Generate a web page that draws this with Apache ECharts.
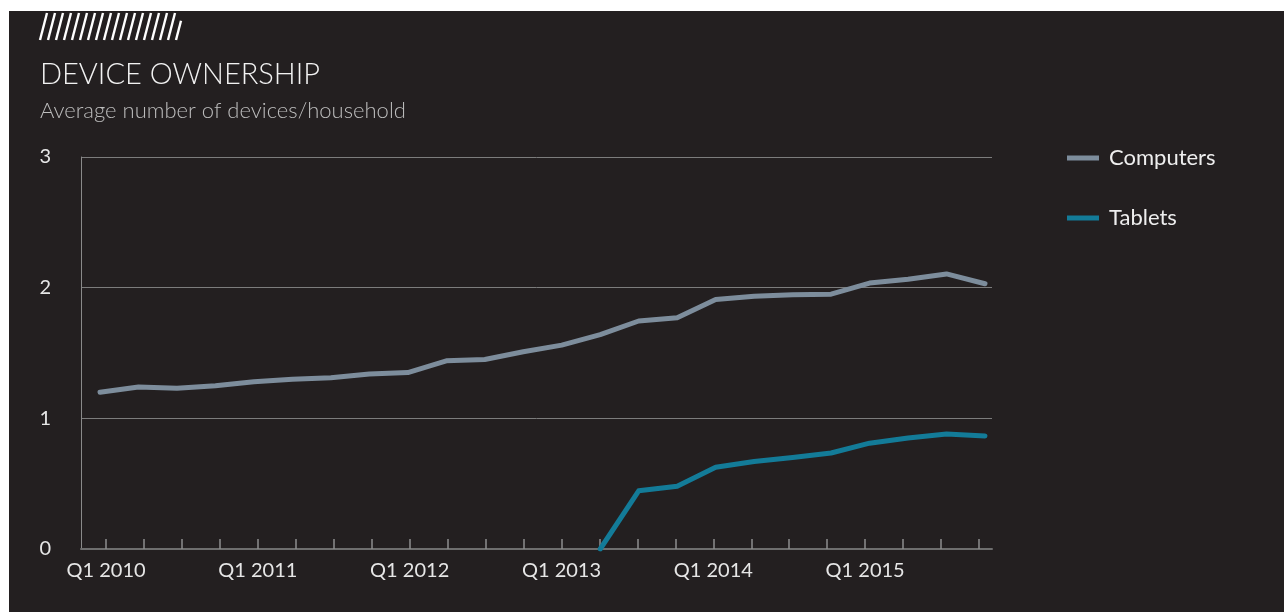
<!DOCTYPE html>
<html>
<head>
<meta charset="utf-8">
<script src="https://cdn.jsdelivr.net/npm/echarts@6/dist/echarts.min.js"></script>
<style>
  html, body { margin: 0; padding: 0; background: #ffffff; }
  #chart { width: 1284px; height: 612px; }
</style>
</head>
<body>
<div id="chart"></div>
<script>
// Quarter labels along the x axis
const quarters = [
  'Q1 2010', 'Q2 2010', 'Q3 2010', 'Q4 2010',
  'Q1 2011', 'Q2 2011', 'Q3 2011', 'Q4 2011',
  'Q1 2012', 'Q2 2012', 'Q3 2012', 'Q4 2012',
  'Q1 2013', 'Q2 2013', 'Q3 2013', 'Q4 2013',
  'Q1 2014', 'Q2 2014', 'Q3 2014', 'Q4 2014',
  'Q1 2015', 'Q2 2015', 'Q3 2015', 'Q4 2015'
];

// Average number of devices per household, one value per quarter
const computers = [
  1.20, 1.24, 1.23, 1.25, 1.28, 1.30, 1.31, 1.34,
  1.35, 1.44, 1.45, 1.51, 1.56, 1.64, 1.745, 1.77,
  1.91, 1.935, 1.945, 1.95, 2.035, 2.065, 2.105, 2.03
];
const tablets = [
  null, null, null, null, null, null, null, null,
  null, null, null, null, null, 0.00, 0.445, 0.48,
  0.625, 0.67, 0.70, 0.735, 0.81, 0.85, 0.88, 0.865
];

const yTicks = [0, 1, 2, 3];

const BG = '#231f20';
const FONT = 'Lato, "Noto Sans", sans-serif';

const chart = echarts.init(document.getElementById('chart'), null, { renderer: 'canvas' });

// Decorative hatch block above the title
const hatch = [];
for (let k = 0; k < 18; k++) {
  const xb = 40 + 8 * k;
  const xt = Math.min(xb + 7, 181);
  hatch.push({
    type: 'line',
    shape: { x1: xb, y1: 40, x2: xt, y2: 40 - (xt - xb) * 27 / 7 },
    style: { stroke: '#ffffff', lineWidth: 2.4 }
  });
}

const pairs = arr => arr.map((v, i) => [i, v]);

chart.setOption({
  backgroundColor: BG,
  animation: false,
  textStyle: { fontFamily: FONT },
  title: [
    {
      text: 'DEVICE OWNERSHIP',
      left: 35, top: 55,
      textStyle: { color: '#f2f2f2', fontSize: 29, fontWeight: 300, fontFamily: FONT }
    },
    {
      text: 'Average number of devices/household',
      left: 35, top: 95,
      textStyle: { color: '#bdbdbd', fontSize: 22, fontWeight: 300, fontFamily: FONT }
    }
  ],
  graphic: [
    { type: 'rect', left: 0, top: 0, shape: { width: 1284, height: 11 }, style: { fill: '#ffffff' }, silent: true },
    { type: 'rect', left: 0, top: 0, shape: { width: 9, height: 612 }, style: { fill: '#ffffff' }, silent: true },
    { type: 'group', children: hatch, silent: true }
  ],
  legend: {
    orient: 'vertical',
    left: 1062, top: 142,
    itemWidth: 32, itemHeight: 5,
    itemGap: 38,
    icon: 'rect',
    textStyle: { color: '#eeeeee', fontSize: 22, fontFamily: FONT, padding: [0, 0, 0, 5] },
    data: ['Computers', 'Tablets']
  },
  grid: { left: 81, right: 292, top: 157, bottom: 63, containLabel: false },
  xAxis: [
    {
      // quarter scale carrying ticks and labels
      type: 'value',
      min: -0.659, max: 23.342,
      axisLine: { show: true, onZero: false, lineStyle: { color: '#6e6e6e', width: 2 } },
      axisTick: {
        show: true, inside: true, length: 10,
        customValues: quarters.map((q, i) => i),
        lineStyle: { color: '#8f8f8f', width: 1.5 }
      },
      axisLabel: {
        customValues: quarters.map((q, i) => i).filter(i => i % 4 === 0),
        formatter: v => quarters[Math.round(v)],
        color: '#e6e6e6', fontSize: 20, margin: 12, fontFamily: FONT
      },
      splitLine: { show: false }
    },
    {
      // quarter scale used to place the series points
      type: 'value',
      min: -0.494, max: 23.182,
      show: false
    }
  ],
  yAxis: {
    type: 'value',
    min: yTicks[0], max: yTicks[yTicks.length - 1], interval: 1,
    axisLine: { show: true, onZero: false, lineStyle: { color: '#8a8a8a', width: 1 } },
    axisTick: { show: false },
    axisLabel: { color: '#e6e6e6', fontSize: 20, margin: 30, fontFamily: FONT },
    splitLine: { show: true, lineStyle: { color: '#7c7c7c', width: 1 } }
  },
  series: [
    {
      name: 'Computers', type: 'line', xAxisIndex: 1,
      data: pairs(computers),
      showSymbol: false, symbol: 'none',
      itemStyle: { color: '#7d8d9c' },
      lineStyle: { color: '#7d8d9c', width: 5, cap: 'round', join: 'round' }
    },
    {
      name: 'Tablets', type: 'line', xAxisIndex: 1,
      data: pairs(tablets),
      showSymbol: false, symbol: 'none',
      itemStyle: { color: '#137b98' },
      lineStyle: { color: '#137b98', width: 5, cap: 'round', join: 'round' }
    }
  ]
});
</script>
</body>
</html>
